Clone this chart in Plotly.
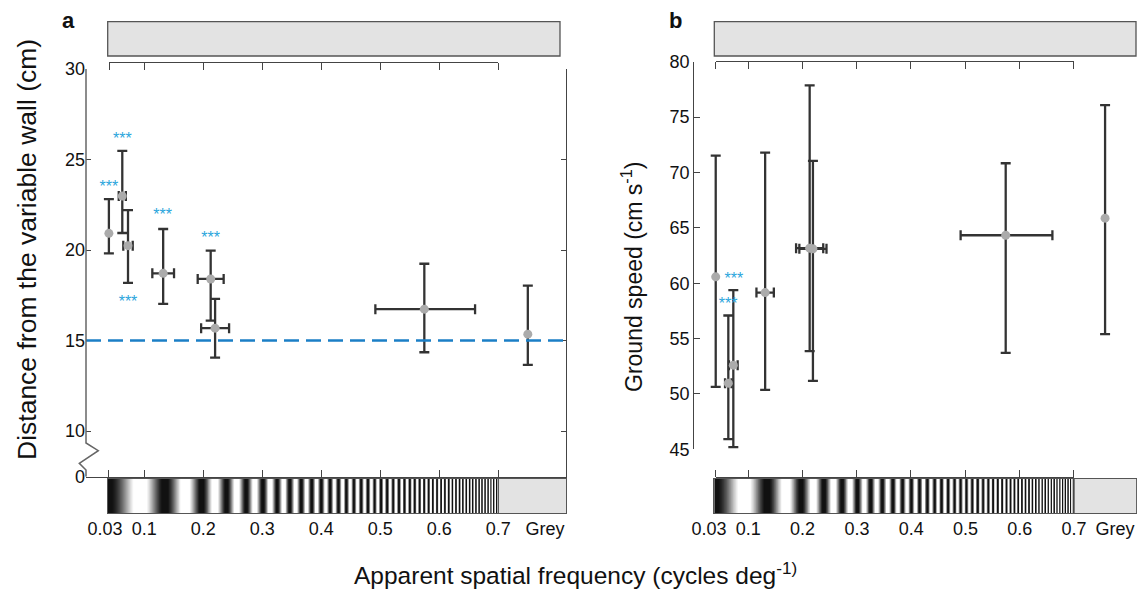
import numpy as np
import plotly.graph_objects as go

W, H = 1137, 596

# ---------------- data ----------------
tick_vals = [0.04, 0.1, 0.2, 0.3, 0.4, 0.5, 0.6, 0.7]
tick_text = ["0.03", "0.1", "0.2", "0.3", "0.4", "0.5", "0.6", "0.7", "Grey"]

# panel a: distance from the variable wall (cm)
a_x = [0.040, 0.0627, 0.0724, 0.132, 0.2125, 0.220, 0.5746, 0.750]
a_y = [20.92, 22.98, 20.24, 18.71, 18.40, 15.68, 16.73, 15.35]
a_y_hi = [22.81, 25.48, 22.20, 21.16, 19.96, 17.30, 19.24, 18.03]
a_y_lo = [19.81, 20.94, 18.18, 17.02, 16.10, 14.05, 14.35, 13.65]
a_xerr_minus = [0, 0.006, 0.008, 0.0184, 0.022, 0.0237, 0.083, 0]
a_xerr_plus = [0, 0.006, 0.008, 0.0184, 0.022, 0.0237, 0.086, 0]
a_star_x = [0.040, 0.0627, 0.0724, 0.131, 0.2125]
a_star_y = [23.4, 26.1, 17.05, 21.9, 20.63]
a_ref_line = 15

# panel b: ground speed (cm s-1)
b_x = [0.040, 0.0632, 0.0724, 0.131, 0.213, 0.219, 0.574, 0.757]
b_y = [60.57, 50.97, 52.60, 59.15, 63.16, 63.10, 64.33, 65.87]
b_y_hi = [71.52, 57.08, 59.37, 71.79, 77.87, 71.04, 70.83, 76.07]
b_y_lo = [50.64, 45.92, 45.20, 50.37, 53.86, 51.18, 53.71, 55.40]
b_xerr_minus = [0, 0.006, 0.008, 0.016, 0.025, 0.025, 0.083, 0]
b_xerr_plus = [0, 0.006, 0.008, 0.016, 0.025, 0.025, 0.086, 0]
b_star_x = [0.0735, 0.063]
b_star_y = [60.3, 58.0]

# ---------------- helpers ----------------
def fx(px):
    return px / W

def fy(py):
    return 1 - py / H

FONT = "Liberation Sans, Arial, sans-serif"
DARK = "#333333"
LINE = "#444444"
MARK = "#ababab"
STAR = "#2aa5dc"

# decorative grating (chirped stimulus illustration)
u = np.linspace(0, 390, 1600)
cu = [0, 76, 108, 148, 192, 292, 390]
cf = [0.012, 0.026, 0.041, 0.06, 0.09, 0.175, 0.36]
f = np.interp(u, cu, cf)
phase = np.concatenate([[0], np.cumsum((f[1:] + f[:-1]) / 2 * np.diff(u))])
p0 = np.interp(57.3, u, phase) + 0.5
g = np.clip(0.55 + 0.6 * np.cos(2 * np.pi * (phase - p0)), 0, 1)
grating_v = 0.038 + u / 590.0

fig = go.Figure()

def add_panel(xa, ya, xs, ys, yhi, ylo, xm, xp, sx, sy):
    ey_p = [h - y for h, y in zip(yhi, ys)]
    ey_m = [y - l for l, y in zip(ylo, ys)]
    idx = [i for i in range(len(xs)) if xm[i] > 0 or xp[i] > 0]
    fig.add_trace(go.Scatter(
        x=xs, y=ys, xaxis=xa, yaxis=ya, mode="markers",
        marker=dict(size=1, color="rgba(0,0,0,0)"),
        error_y=dict(type="data", array=ey_p, arrayminus=ey_m, symmetric=False,
                     color=DARK, thickness=2.3, width=5),
        showlegend=False, hoverinfo="skip"))
    fig.add_trace(go.Scatter(
        x=[xs[i] for i in idx], y=[ys[i] for i in idx], xaxis=xa, yaxis=ya,
        mode="markers", marker=dict(size=1, color="rgba(0,0,0,0)"),
        error_x=dict(type="data", array=[xp[i] for i in idx],
                     arrayminus=[xm[i] for i in idx], symmetric=False,
                     color=DARK, thickness=2.3, width=5),
        showlegend=False, hoverinfo="skip"))
    fig.add_trace(go.Scatter(
        x=xs, y=ys, xaxis=xa, yaxis=ya, mode="markers",
        marker=dict(size=9, color=MARK), showlegend=False, hoverinfo="skip"))
    fig.add_trace(go.Scatter(
        x=sx, y=sy, xaxis=xa, yaxis=ya, mode="text", text=["***"] * len(sx),
        textfont=dict(size=16, color=STAR, family=FONT),
        showlegend=False, hoverinfo="skip"))

add_panel("x", "y", a_x, a_y, a_y_hi, a_y_lo, a_xerr_minus, a_xerr_plus, a_star_x, a_star_y)
add_panel("x6", "y6", b_x, b_y, b_y_hi, b_y_lo, b_xerr_minus, b_xerr_plus, b_star_x, b_star_y)

# gratings
for xa, ya in (("x4", "y4"), ("x9", "y9")):
    fig.add_trace(go.Heatmap(
        x=grating_v, y=[0.5], z=[g], xaxis=xa, yaxis=ya,
        colorscale=[[0, "#111111"], [1, "#ffffff"]], zmin=0, zmax=1,
        showscale=False, hoverinfo="skip"))

# dummy traces to register free axes
for xa, ya in (("x3", "y"), ("x5", "y"), ("x", "y2"), ("x7", "y6"), ("x8", "y6"), ("x10", "y6")):
    fig.add_trace(go.Scatter(x=[None], y=[None], xaxis=xa, yaxis=ya,
                             showlegend=False, hoverinfo="skip"))

# ---------------- axes ----------------
XR_A = [0.0012, 0.8147]
XR_B = [0.00055, 0.8145]
tickfont = dict(family=FONT, size=18, color="#111")
label_pos_a = [0.0334, 0.1, 0.2, 0.3, 0.4, 0.5, 0.6, 0.7, 0.779]
label_pos_b = [0.0276, 0.1, 0.2, 0.3, 0.4, 0.5, 0.6, 0.7, 0.7753]

common_off = dict(showgrid=False, zeroline=False, automargin=False)

def tick_axis(domain, position, side):
    # ticks drawn "outside" on the opposite side so they hang toward the plot
    return dict(domain=domain, range=[0.04, 0.7], anchor="free", position=position,
                side=side, ticks="outside", ticklen=7, tickwidth=1.3, tickcolor=LINE,
                tickvals=tick_vals, showticklabels=False, showline=True,
                linecolor=LINE, linewidth=1.3, fixedrange=True, **common_off)

def label_axis(domain, rng, vals):
    return dict(domain=domain, range=rng, anchor="free", position=fy(516), side="bottom",
                ticks="", tickvals=vals, ticktext=tick_text, tickfont=tickfont,
                ticklabeloverflow="allow", showline=False, **common_off)

yt_a = [7.475, 10, 15, 20, 25, 30]
yt_a_text = ["0", "10", "15", "20", "25", "30"]

fig.update_layout(
    width=W, height=H, margin=dict(l=0, r=0, t=0, b=0, pad=0, autoexpand=False),
    paper_bgcolor="white", plot_bgcolor="rgba(0,0,0,0)",
    font=dict(family=FONT, color="#111"),
    # panel a main
    xaxis=dict(domain=[fx(86), fx(566)], range=XR_A, anchor="y", showline=True,
               linecolor=LINE, linewidth=1.3, ticks="inside", ticklen=7, tickwidth=1.3,
               tickcolor=LINE, tickvals=tick_vals, showticklabels=False, **common_off),
    yaxis=dict(domain=[fy(476.7), fy(69)], range=[7.475, 30], anchor="x", showline=False,
               ticks="inside", ticklen=5, tickwidth=1.3, tickcolor=LINE,
               tickvals=yt_a, ticktext=yt_a_text, tickfont=tickfont, **common_off),
    yaxis2=dict(overlaying="y", side="right", anchor="x", range=[7.475, 30], showline=True,
                linecolor=LINE, linewidth=1.3, ticks="inside", ticklen=5, tickwidth=1.3,
                tickcolor=LINE, tickvals=[10, 15, 20, 25, 30], showticklabels=False,
                **common_off),
    xaxis3=tick_axis([fx(109), fx(498)], fy(61.7), "bottom"),
    xaxis4=dict(domain=[fx(107.7), fx(566)], range=[0.038, 0.8147], anchor="y4",
                showline=True, mirror=True, linecolor="#555", linewidth=1.3,
                showticklabels=False, ticks="", **common_off),
    yaxis4=dict(domain=[fy(513), fy(479)], range=[0, 1], anchor="x4", showline=True,
                mirror=True, linecolor="#555", linewidth=1.3, showticklabels=False,
                ticks="", **common_off),
    xaxis5=label_axis([fx(86), fx(566)], XR_A, label_pos_a),
    # panel b main
    xaxis6=dict(domain=[fx(694.3), fx(1136.3)], range=XR_B, anchor="y6", visible=False),
    yaxis6=dict(domain=[fy(449.3), fy(61.7)], range=[45, 80], anchor="x6", showline=True,
                linecolor=LINE, linewidth=1.3, ticks="inside", ticklen=6, tickwidth=1.3,
                tickcolor=LINE, tickvals=[45, 50, 55, 60, 65, 70, 75, 80],
                tickfont=tickfont, **common_off),
    xaxis7=tick_axis([fx(715.7), fx(1073.7)], fy(61.3), "bottom"),
    xaxis8=tick_axis([fx(715.7), fx(1073.7)], fy(476.7), "top"),
    xaxis9=dict(domain=[fx(714.3), fx(1136.3)], range=[0.0381, 0.8145], anchor="y9",
                showline=True, mirror=True, linecolor="#555", linewidth=1.3,
                showticklabels=False, ticks="", **common_off),
    yaxis9=dict(domain=[fy(513), fy(479)], range=[0, 1], anchor="x9", showline=True,
                mirror=True, linecolor="#555", linewidth=1.3, showticklabels=False,
                ticks="", **common_off),
    xaxis10=label_axis([fx(694.3), fx(1136.3)], XR_B, label_pos_b),
)

shapes = []
# grey boxes above the panels
for x0, x1 in ((107.7, 560), (714.3, 1136)):
    shapes.append(dict(type="rect", xref="paper", yref="paper", x0=fx(x0), x1=fx(x1),
                       y0=fy(56), y1=fy(21.7), fillcolor="#e3e3e3",
                       line=dict(color="#555", width=1.3)))
# grey parts of the gratings + divider
for xa, ya, xend in (("x4", "y4", 0.8147), ("x9", "y9", 0.8145)):
    shapes.append(dict(type="rect", xref=xa, yref=ya + " domain", x0=0.7, x1=xend,
                       y0=0, y1=1, fillcolor="#e3e3e3", line=dict(width=0), layer="above"))
    shapes.append(dict(type="line", xref=xa, yref=ya + " domain", x0=0.7, x1=0.7,
                       y0=0, y1=1, line=dict(color="#555", width=1.3), layer="above"))
# dashed reference line in panel a
shapes.append(dict(type="line", xref="x domain", yref="y", x0=0, x1=1,
                   y0=a_ref_line, y1=a_ref_line,
                   line=dict(color="#1b7fc6", width=2.5, dash="15px,7px")))
# broken left axis of panel a
X0, X1, X2 = fx(86), fx(98.3), fx(79.3)
shapes.append(dict(type="path", xref="paper", yref="y",
                   path=f"M {X0},30 L {X0},9.337 L {X1},8.91 L {X2},8.21 L {X0},7.84 L {X0},7.475",
                   line=dict(color="#666", width=1.5)))
fig.update_layout(shapes=shapes)

def note(text, x, y, size, angle=0):
    return dict(text=text, x=fx(x), y=fy(y), xref="paper", yref="paper",
                xanchor="center", yanchor="middle", textangle=angle, showarrow=False,
                font=dict(size=size, family=FONT, color="#111"))

ann = [
    note("<b>a</b>", 68, 21, 22),
    note("<b>b</b>", 675, 21, 22),
    note("Distance from the variable wall (cm)", 27, 250, 26.5, -90),
    note("Ground speed (cm s<sup>-1</sup>)", 632, 277, 23, -90),
    note("Apparent spatial frequency (cycles deg<sup>-1)</sup>", 575, 573, 24.5),
]
fig.update_layout(annotations=ann)

fig.write_html(
    "out.html",
    config={"responsive": False, "displayModeBar": False},
    post_script="document.body.style.margin='0';document.body.style.padding='0';"
                "document.documentElement.style.overflow='hidden';",
)
